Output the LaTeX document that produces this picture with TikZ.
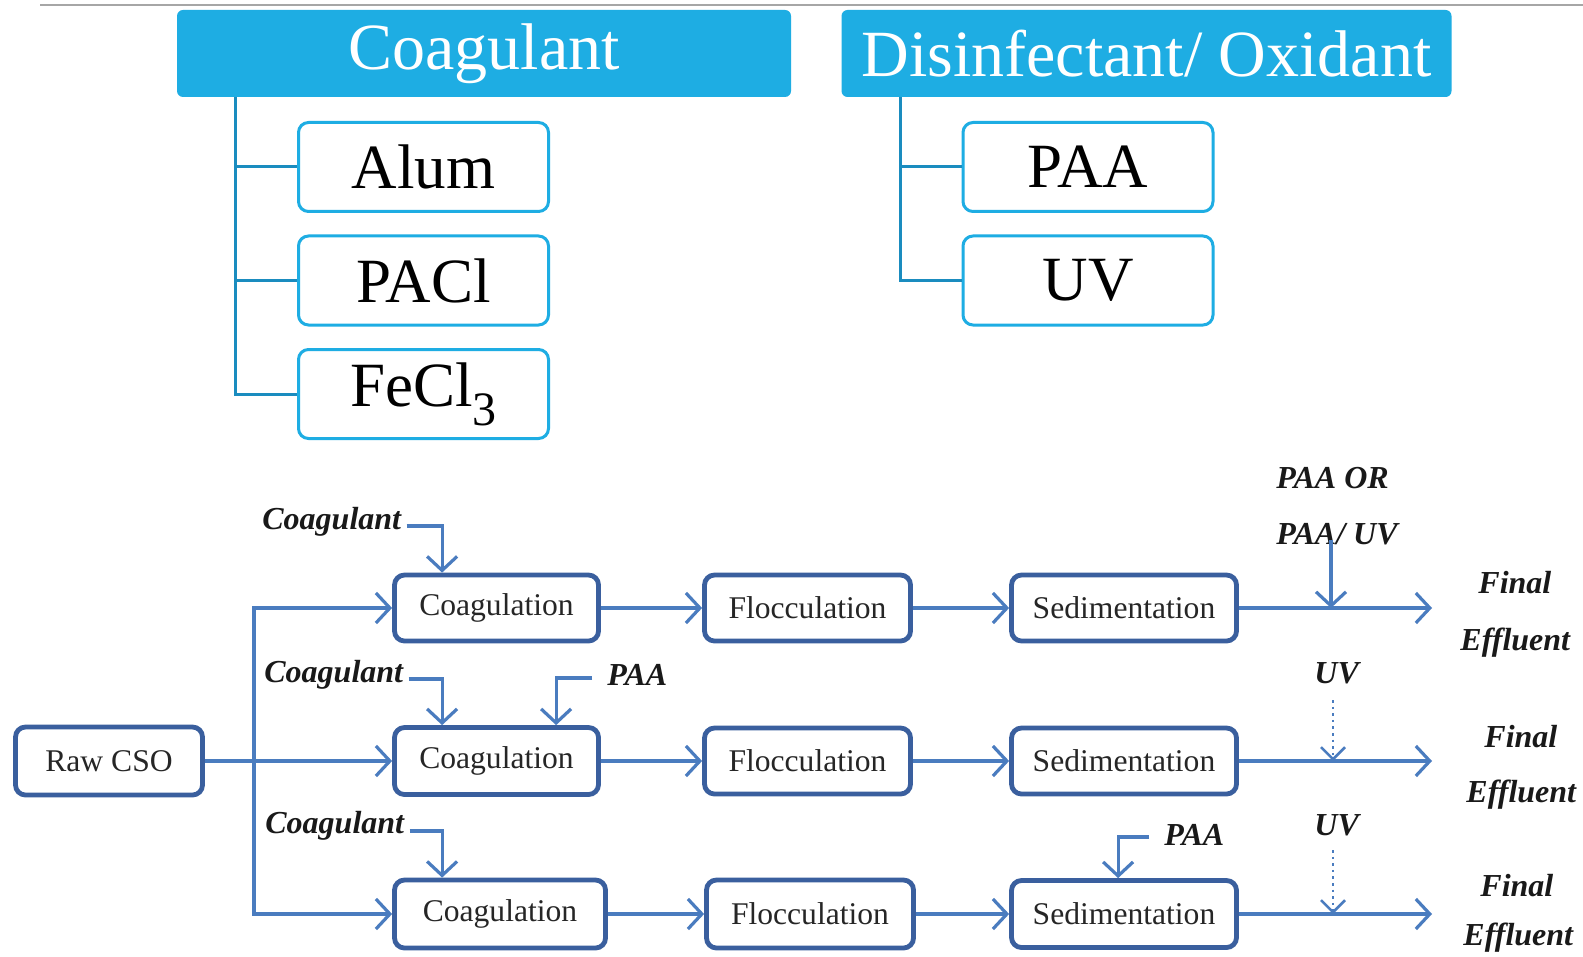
\documentclass[tikz,border=0pt]{standalone}
\usepackage{fontspec}
\setmainfont{Liberation Serif}
\usetikzlibrary{arrows.meta,calc}
\definecolor{cyanB}{HTML}{1EADE3}
\definecolor{tealB}{HTML}{1A8CBF}
\definecolor{navyB}{HTML}{3A5F9E}
\definecolor{arrB}{HTML}{4A7CBF}
\tikzset{
  hdr/.style={fill=cyanB, rounded corners=3pt, text=white, inner sep=0pt,
    font=\fontsize{33}{36}\selectfont, minimum height=43.5pt},
  subbox/.style={draw=cyanB, line width=1.5pt, rounded corners=5pt, fill=white, inner sep=0pt,
    font=\fontsize{31.5}{34}\selectfont, minimum width=125pt, minimum height=44.5pt},
  conn/.style={draw=tealB, line width=1.5pt},
  proc/.style={draw=navyB, line width=2.4pt, rounded corners=5pt, fill=white, inner sep=0pt,
    text=black!85, font=\fontsize{15.8}{18}\selectfont},
  arr/.style={draw=arrB, line width=1.6pt, -{Straight Barb[length=7pt,width=15pt,line width=1.6pt]}},
  darr/.style={draw=arrB, line width=1.3pt, dotted, -{Straight Barb[length=6pt,width=12pt,line width=1.3pt]}},
  lab/.style={font=\fontsize{16}{18}\selectfont\bfseries\itshape, inner sep=0pt, anchor=base west, text=black!90}
}
\begin{document}
\begin{tikzpicture}[x=0.5pt,y=-0.5pt]
\useasboundingbox (0,0) rectangle (1583,957);
\fill[white] (0,0) rectangle (1583,957);
\draw[gray!70, line width=0.8pt] (40,5) -- (1583,5);

% top headers
\node[hdr, minimum width=307pt] (hL) at (484,53.5) {Coagulant};
\node[hdr, minimum width=305pt] (hR) at (1146.5,53.5) {Disinfectant/ Oxidant};

\node[subbox] (alum) at (423.5,167) {Alum};
\node[subbox] (pacl) at (423.5,280.5) {PACl};
\node[subbox] (fecl) at (423.5,394) {FeCl\raisebox{-0.3em}{\fontsize{24}{26}\selectfont 3}};
\node[subbox] (paat) at (1088,167) {PAA};
\node[subbox] (uvt) at (1088,280.5) {UV};

\draw[conn] ([xshift=29.5pt]hL.south west) |- (fecl.west);
\draw[conn] ([xshift=29.5pt]hL.south west) |- (pacl.west);
\draw[conn] ([xshift=29.5pt]hL.south west) |- (alum.west);
\draw[conn] ([xshift=29.5pt]hR.south west) |- (uvt.west);
\draw[conn] ([xshift=29.5pt]hR.south west) |- (paat.west);

% process boxes
\node[proc, minimum width=93.5pt, minimum height=34pt] (raw) at (109,761) {Raw CSO};
\node[proc, minimum width=102pt, minimum height=33pt] (c1) at (496.5,608) {Coagulation};
\node[proc, minimum width=102pt, minimum height=33.5pt] (c2) at (496.5,761) {Coagulation};
\node[proc, minimum width=105.5pt, minimum height=34pt] (c3) at (500,914) {Coagulation};
\node[proc, minimum width=103pt, minimum height=33pt] (f1) at (807.5,608) {Flocculation};
\node[proc, minimum width=103pt, minimum height=33pt] (f2) at (807.5,761) {Flocculation};
\node[proc, minimum width=103.5pt, minimum height=34pt] (f3) at (810,914) {Flocculation};
\node[proc, minimum width=112.5pt, minimum height=33pt] (s1) at (1124,608) {Sedimentation};
\node[proc, minimum width=112.5pt, minimum height=33pt] (s2) at (1124,761) {Sedimentation};
\node[proc, minimum width=112.5pt, minimum height=33.5pt] (s3) at (1124,914) {Sedimentation};

% outlet coordinates
\coordinate (o1) at (1432,608);
\coordinate (o2) at (1432,761);
\coordinate (o3) at (1432,914);
\coordinate (tr) at (254,761);

% flows
\draw[arr] (raw.east) -- (c2.west);
\draw[arr] (tr) |- (c1.west);
\draw[arr] (tr) |- (c3.west);
\draw[arr] (c1.east) -- (f1.west);
\draw[arr] (c2.east) -- (f2.west);
\draw[arr] (c3.east) -- (f3.west);
\draw[arr] (f1.east) -- (s1.west);
\draw[arr] (f2.east) -- (s2.west);
\draw[arr] (f3.east) -- (s3.west);
\draw[arr] (s1.east) -- (o1);
\draw[arr] (s2.east) -- (o2);
\draw[arr] (s3.east) -- (o3);

% dosing labels
\node[lab] (k1) at (262,529) {Coagulant};
\node[lab] (k2) at (264,682) {Coagulant};
\node[lab] (k3) at (265,833) {Coagulant};
\node[lab] (p2) at (607,685) {PAA};
\node[lab] (p3) at (1164,845) {PAA};
\node[lab] (po1) at (1276,488) {PAA OR};
\node[lab] (po2) at (1276,544) {PAA/ UV};
\node[lab] (u2) at (1314,683) {UV};
\node[lab] (u3) at (1314,835) {UV};

\draw[arr] ([shift={(5,-3)}]k1.base east) -| ([xshift=25pt]c1.north west);
\draw[arr] ([shift={(5,-3)}]k2.base east) -| ([xshift=25pt]c2.north west);
\draw[arr] ([shift={(5,-2)}]k3.base east) -| ([xshift=25pt]c3.north west);
\draw[arr] ([shift={(-15,-7)}]p2.base west) -| ([xshift=82pt]c2.north west);
\draw[arr] ([shift={(-15,-8)}]p3.base west) -| ([xshift=54.5pt]s3.north west);

\coordinate (d1) at (1331,540);
\coordinate (d2) at (1333,700);
\coordinate (d3) at (1333,850);
\draw[arr] (d1) -- (d1 |- o1);
\draw[darr] (d2) -- (d2 |- o2);
\draw[darr] (d3) -- (d3 |- o3);

% outputs
\node[lab] (fa1) at (1478,593) {Final};
\node[lab] (ea1) at (1460,650) {Effluent};
\node[lab] (fa2) at (1484,747) {Final};
\node[lab] (ea2) at (1466,802) {Effluent};
\node[lab] (fa3) at (1480,896) {Final};
\node[lab] (ea3) at (1463,945) {Effluent};
\end{tikzpicture}
\end{document}
